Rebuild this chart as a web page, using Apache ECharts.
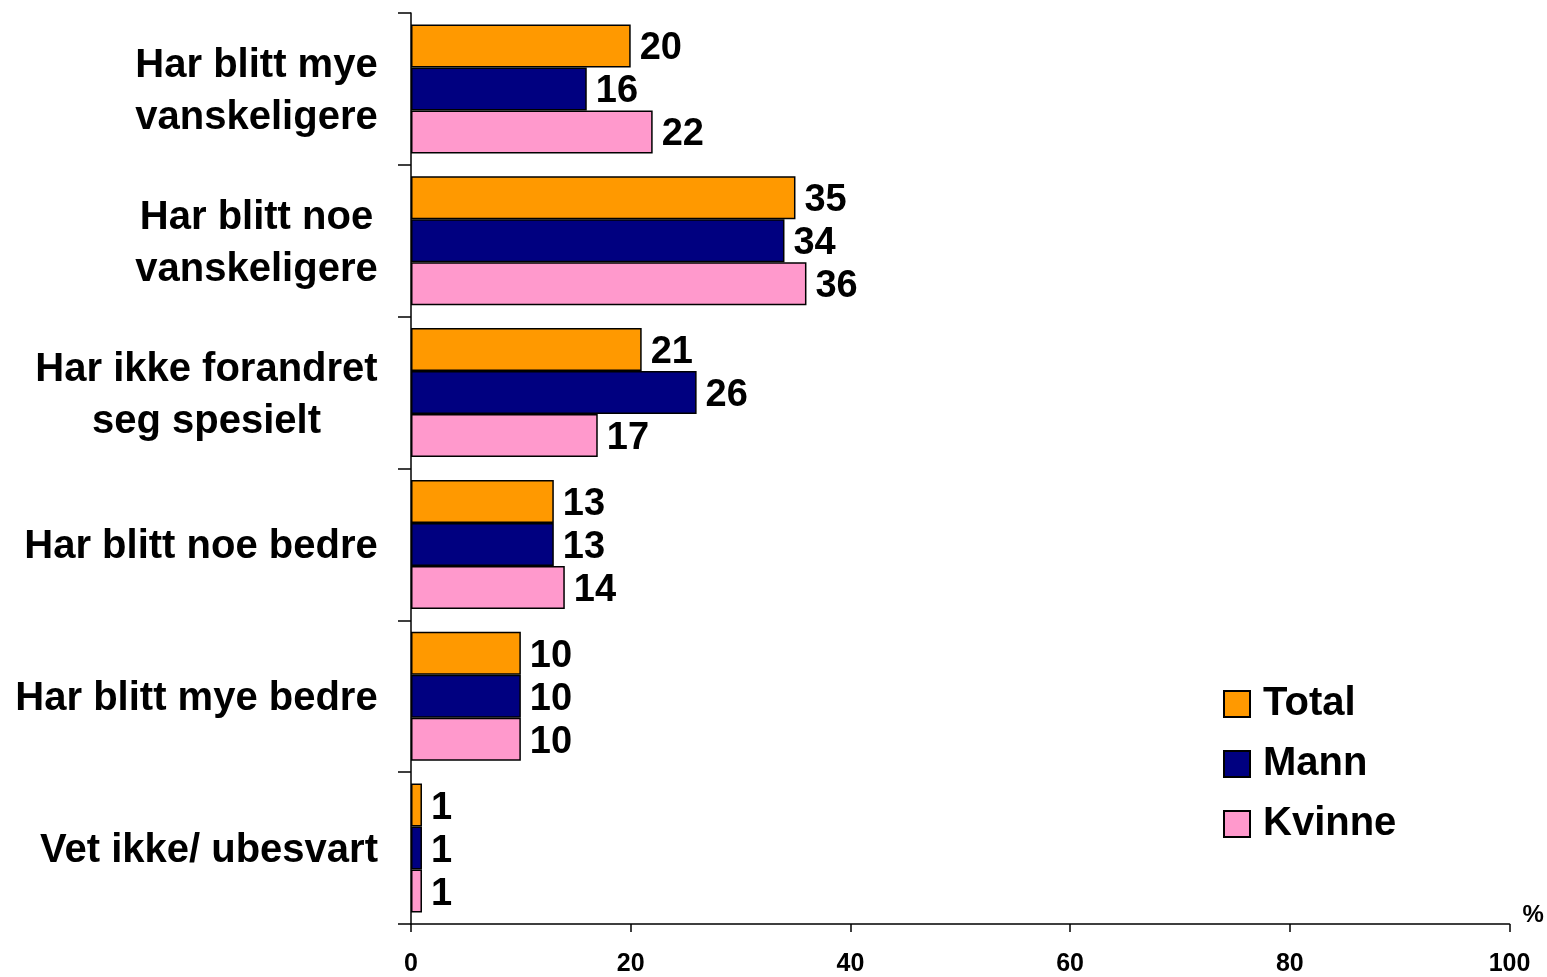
<!DOCTYPE html>
<html>
<head>
<meta charset="utf-8">
<script src="https://cdn.jsdelivr.net/npm/echarts@6/dist/echarts.min.js"></script>
<style>
  html, body { margin: 0; padding: 0; background: #ffffff; }
  #chart { width: 1547px; height: 977px; }
</style>
</head>
<body>
<div id="chart"></div>
<script>
// Answer categories, top to bottom
const categories = [
  'Har blitt mye\nvanskeligere',
  'Har blitt noe\nvanskeligere',
  'Har ikke forandret\nseg spesielt',
  'Har blitt noe bedre',
  'Har blitt mye bedre',
  'Vet ikke/ ubesvart'
];
const seriesNames = ['Total', 'Mann', 'Kvinne'];
const totalValues = [20, 35, 21, 13, 10, 1];
const mannValues = [16, 34, 26, 13, 10, 1];
const kvinneValues = [22, 36, 17, 14, 10, 1];
const xTicks = [0, 20, 40, 60, 80, 100];

const FONT = 'Arial, "Liberation Sans", sans-serif';
const colors = ['#FF9900', '#000080', '#FF99CC'];

// Multi-line category labels: lines centred inside a block that is right-aligned to the axis
const CAT_SIZE = 40;
const measureCtx = document.createElement('canvas').getContext('2d');
measureCtx.font = 'bold ' + CAT_SIZE + 'px ' + FONT;
const catRich = {};
categories.forEach((c, i) => {
  const w = Math.max(...c.split('\n').map(l => measureCtx.measureText(l).width));
  catRich['c' + i] = {
    width: Math.ceil(w),
    align: 'center',
    fontSize: CAT_SIZE,
    fontWeight: 'bold',
    fontFamily: FONT,
    color: '#000',
    lineHeight: 52
  };
});

const chart = echarts.init(document.getElementById('chart'), null, { renderer: 'canvas' });

const seriesData = [totalValues, mannValues, kvinneValues];

chart.setOption({
  animation: false,
  backgroundColor: '#ffffff',
  grid: { left: 411, right: 37.5, top: 13, bottom: 52, containLabel: false },
  legend: {
    orient: 'vertical',
    left: 1223,
    top: 684,
    padding: 0,
    itemWidth: 26,
    itemHeight: 26,
    itemGap: 20,
    icon: 'rect',
    data: seriesNames,
    textStyle: { fontSize: 40, fontWeight: 'bold', fontFamily: FONT, color: '#000', padding: [0, 0, 0, 8] }
  },
  xAxis: {
    type: 'value',
    min: xTicks[0],
    max: xTicks[xTicks.length - 1],
    interval: 20,
    name: '%',
    nameLocation: 'end',
    nameGap: 13,
    nameTextStyle: { fontSize: 24, fontWeight: 'bold', fontFamily: FONT, color: '#000', verticalAlign: 'bottom', padding: [0, 0, -3, 0] },
    splitLine: { show: false },
    axisLine: { show: true, lineStyle: { color: '#000', width: 1.5 } },
    axisTick: { show: true, length: 8, lineStyle: { color: '#000', width: 1.5 } },
    axisLabel: { margin: 28, fontSize: 25, fontWeight: 'bold', fontFamily: FONT, color: '#000' }
  },
  yAxis: {
    type: 'category',
    inverse: true,
    data: categories,
    axisLine: { show: true, lineStyle: { color: '#000', width: 1.5 } },
    axisTick: { show: true, length: 13, alignWithLabel: false, lineStyle: { color: '#000', width: 1.5 } },
    axisLabel: {
      margin: 33,
      align: 'right',
      padding: [6, 0, 0, 0],
      formatter: (v, i) => '{c' + i + '|' + v + '}',
      rich: catRich
    }
  },
  series: seriesNames.map((name, k) => ({
    name: name,
    type: 'bar',
    data: seriesData[k],
    barGap: '0%',
    barCategoryGap: '15%',
    itemStyle: { color: colors[k], borderColor: '#000', borderWidth: 1.5 },
    label: {
      show: true,
      position: 'right',
      distance: 9,
      offset: [0, 3],
      fontSize: 38,
      fontWeight: 'bold',
      fontFamily: FONT,
      color: '#000'
    }
  }))
});
</script>
</body>
</html>
